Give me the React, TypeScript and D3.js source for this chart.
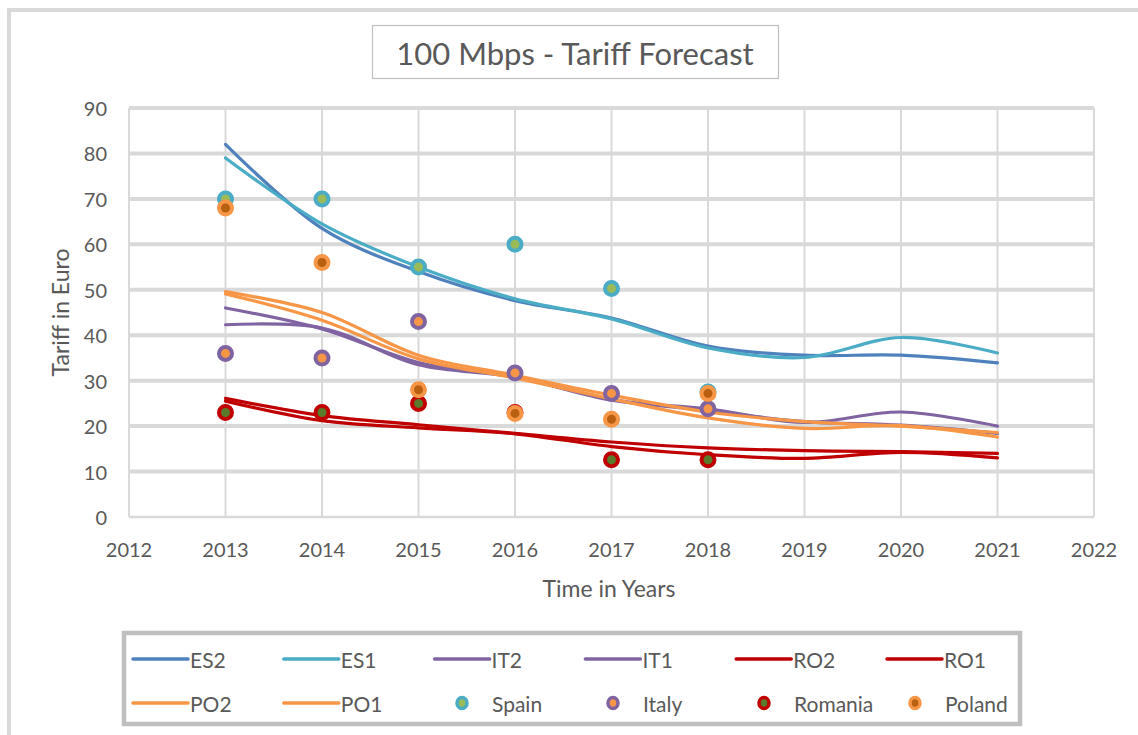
import React from 'react';
import * as d3 from 'd3';

const W = 1138;
const H = 735;

const years = [2013, 2014, 2015, 2016, 2017, 2018, 2019, 2020, 2021];
const pointYears = [2013, 2014, 2015, 2016, 2017, 2018];
const xTicks = [2012, 2013, 2014, 2015, 2016, 2017, 2018, 2019, 2020, 2021, 2022];
const yTicks = [0, 10, 20, 30, 40, 50, 60, 70, 80, 90];

// smoothed forecast lines
const es2 = [82, 63.5, 54, 47.6, 43.8, 37.6, 35.6, 35.6, 33.9];
const es1 = [79, 64.5, 55, 48, 43.6, 37.2, 35.1, 39.5, 36.1];
const it2 = [46, 41.4, 34, 30.8, 25.9, 23.4, 21, 20.2, 18.4];
const it1 = [42.3, 41.6, 33.5, 30.8, 25.7, 23.8, 20.8, 23.1, 20];
const ro2 = [26.1, 22.3, 20.3, 18.4, 16.5, 15.2, 14.6, 14.4, 14];
const ro1 = [25.5, 21.2, 19.6, 18.3, 15.5, 13.7, 12.9, 14.2, 13];
const po2 = [49.6, 45, 35.6, 31.2, 26.8, 23.1, 21, 20, 18.6];
const po1 = [49.1, 43.3, 34.8, 30.6, 26, 21.8, 19.5, 20.1, 17.6];

// observed tariffs
const spain = [70, 70, 55, 60, 50.3, 27.5];
const italy = [36, 35, 43, 31.7, 27.2, 23.8];
const romania = [23, 23, 25, 23, 12.6, 12.6];
const poland = [68, 56, 28, 22.8, 21.5, 27.2];

const lineSeries = [
  { name: 'ES2', values: es2, color: '#4f81bd' },
  { name: 'ES1', values: es1, color: '#4bacc6' },
  { name: 'IT2', values: it2, color: '#8064a2' },
  { name: 'IT1', values: it1, color: '#8064a2' },
  { name: 'RO2', values: ro2, color: '#c00000' },
  { name: 'RO1', values: ro1, color: '#c00000' },
  { name: 'PO2', values: po2, color: '#f79646' },
  { name: 'PO1', values: po1, color: '#f79646' },
];

const pointSeries = [
  { name: 'Spain', values: spain, stroke: '#4bacc6', fill: '#9bbb59' },
  { name: 'Italy', values: italy, stroke: '#8064a2', fill: '#f79646' },
  { name: 'Romania', values: romania, stroke: '#c00000', fill: '#5b7a2b' },
  { name: 'Poland', values: poland, stroke: '#f79646', fill: '#b8600f' },
];

const font = 'Lato, "Open Sans", sans-serif';
const textColor = '#595959';

export default function App() {
  const margin = { top: 108, left: 129, right: W - 1094, bottom: H - 517 };

  const x = d3.scaleLinear().domain([2012, 2022]).range([margin.left, W - margin.right]);
  const y = d3.scaleLinear().domain([0, 90]).range([H - margin.bottom, margin.top]);

  const line = d3.line<number>()
    .x((d, i) => x(years[i]))
    .y(d => y(d))
    .curve(d3.curveCatmullRom.alpha(0.5));

  const legendItems = [
    ...lineSeries.map(s => ({ type: 'line', name: s.name, color: s.color, fill: '' })),
    ...pointSeries.map(s => ({ type: 'point', name: s.name, color: s.stroke, fill: s.fill })),
  ];

  return (
    <svg width={W} height={H} style={{ position: 'absolute', left: 0, top: 0, background: '#fff' }} fontFamily={font}>
      {/* chart frame */}
      <rect x={9} y={10} width={W + 10} height={H + 10} fill="none" stroke="#d9d9d9" strokeWidth={4} />

      {/* title */}
      <rect x={372.5} y={25.5} width={406} height={53} fill="#fff" stroke="#bfbfbf" strokeWidth={1.2} />
      <text x={575} y={53} textAnchor="middle" dominantBaseline="central" fontSize={31} fill={textColor}>
        100 Mbps - Tariff Forecast
      </text>

      {/* grid */}
      {yTicks.map(t => (
        <line key={'h' + t} x1={x(2012)} x2={x(2022)} y1={y(t)} y2={y(t)}
          stroke="#d9d9d9" strokeWidth={t === 0 ? 2.5 : 4} />
      ))}
      {xTicks.map(t => (
        <line key={'v' + t} x1={x(t)} x2={x(t)} y1={y(90)} y2={y(0)} stroke="#d9d9d9" strokeWidth={2} />
      ))}

      {/* tick labels */}
      {yTicks.map(t => (
        <text key={'yl' + t} x={107} y={y(t)} textAnchor="end" dominantBaseline="central" fontSize={20} fill={textColor}>
          {t}
        </text>
      ))}
      {xTicks.map(t => (
        <text key={'xl' + t} x={x(t)} y={549} textAnchor="middle" dominantBaseline="central" fontSize={20} fill={textColor}>
          {t}
        </text>
      ))}

      {/* axis titles */}
      <text x={609} y={588} textAnchor="middle" dominantBaseline="central" fontSize={23} fill={textColor}>
        Time in Years
      </text>
      <text transform={`translate(60, ${y(45)}) rotate(-90)`} textAnchor="middle" dominantBaseline="central" fontSize={23} fill={textColor}>
        Tariff in Euro
      </text>

      {/* forecast lines */}
      {lineSeries.map(s => (
        <path key={s.name} d={line(s.values) || ''} fill="none" stroke={s.color} strokeWidth={3.2} strokeLinecap="round" />
      ))}

      {/* observed points */}
      {pointSeries.map(s => (
        <g key={s.name}>
          {s.values.map((v, i) => (
            <circle key={i} cx={x(pointYears[i])} cy={y(v)} r={6.5} fill={s.fill} stroke={s.stroke} strokeWidth={4} />
          ))}
        </g>
      ))}

      {/* legend */}
      <rect x={124} y={633} width={896} height={91} fill="#fff" stroke="#bfbfbf" strokeWidth={4.5} />
      {legendItems.map((item, i) => {
        const row = i < 6 ? 0 : 1;
        const col = i < 6 ? i : i - 6;
        const ly = row === 0 ? 659 : 703;
        if (item.type === 'line') {
          const lx = 133 + col * 150.8;
          return (
            <g key={item.name}>
              <line x1={lx} x2={lx + 55} y1={ly} y2={ly} stroke={item.color} strokeWidth={3.5} strokeLinecap="round" />
              <text x={lx + 57} y={ly} dominantBaseline="central" fontSize={21} fill={textColor}>{item.name}</text>
            </g>
          );
        }
        const mx = 462 + (col - 2) * 151;
        return (
          <g key={item.name}>
            <ellipse cx={mx} cy={ly} rx={5} ry={5.5} fill={item.fill} stroke={item.color} strokeWidth={3.5} />
            <text x={mx + 30} y={ly} dominantBaseline="central" fontSize={21} fill={textColor}>{item.name}</text>
          </g>
        );
      })}
    </svg>
  );
}
